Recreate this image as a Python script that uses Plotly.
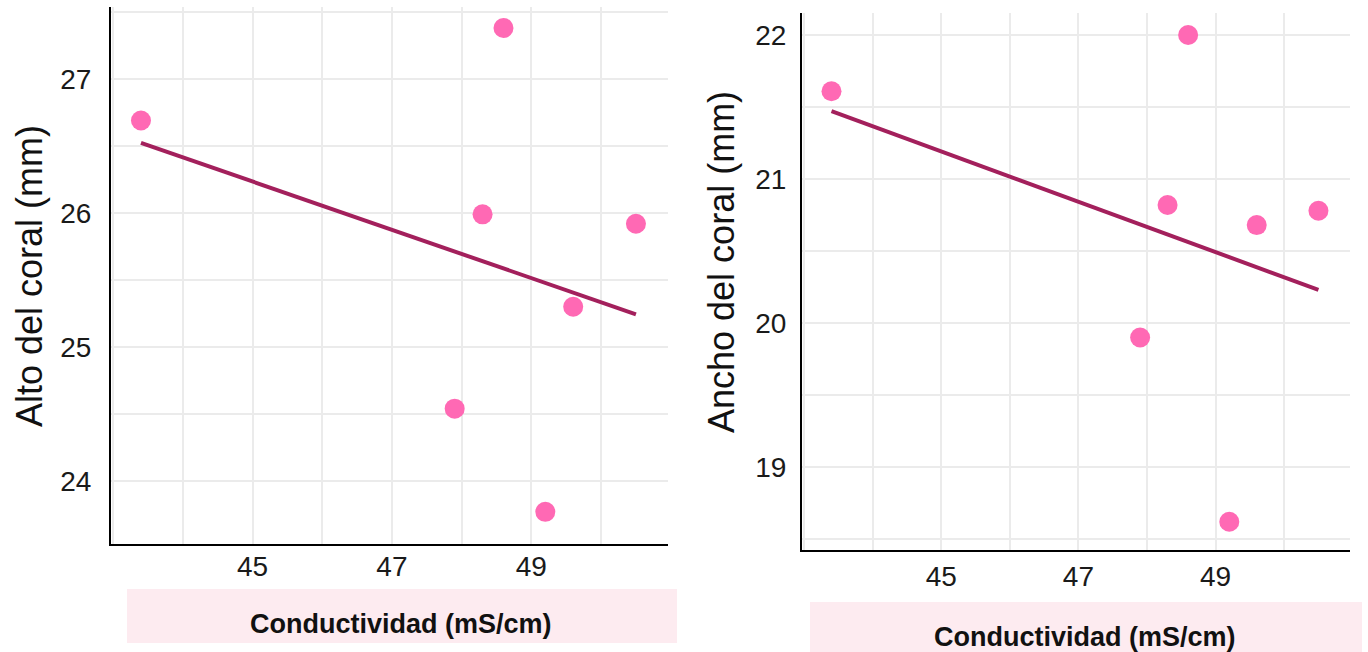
import numpy as np
import plotly.graph_objects as go

# Coral measurements against water conductivity
conductividad = [43.4, 47.9, 48.3, 48.6, 49.2, 49.6, 50.5]
alto_coral = [26.69, 24.54, 25.99, 27.38, 23.77, 25.30, 25.92]
ancho_coral = [21.61, 19.90, 20.82, 22.00, 18.62, 20.68, 20.78]

x_ticks = [45, 47, 49]
alto_ticks = [24, 25, 26, 27]
ancho_ticks = [19, 20, 21, 22]

x_title = "Conductividad (mS/cm)"
alto_title = "Alto del coral (mm)"
ancho_title = "Ancho del coral (mm)"

W, H = 1368, 652
POINT = "#ff69b4"
LINE = "#a3205c"
GRID = "#ebebeb"
BAND = "#fdebf0"
FONT = "Liberation Sans, Arial, sans-serif"

fig = go.Figure()


def fit_line(x, y):
    slope, intercept = np.polyfit(x, y, 1)
    xs = np.array([min(x), max(x)])
    return xs, slope * xs + intercept


for k, yvals in ((1, alto_coral), (2, ancho_coral)):
    xa = "x" if k == 1 else "x2"
    ya = "y" if k == 1 else "y2"
    lx, ly = fit_line(conductividad, yvals)
    fig.add_trace(go.Scatter(x=lx, y=ly, mode="lines",
                             line=dict(color=LINE, width=4),
                             xaxis=xa, yaxis=ya, showlegend=False))
    fig.add_trace(go.Scatter(x=conductividad, y=yvals, mode="markers",
                             marker=dict(color=POINT, size=20, line=dict(width=0)),
                             xaxis=xa, yaxis=ya, showlegend=False))


def px_x(p):
    return p / W


def px_y(p):
    return 1 - p / H


tick_font = dict(family=FONT, size=28, color="#1a1a1a")

common_x = dict(tickvals=x_ticks, showgrid=True, gridcolor=GRID, gridwidth=2,
                minor=dict(tick0=44, dtick=1, showgrid=True, gridcolor=GRID, gridwidth=2),
                showline=True, linecolor="black", linewidth=2, zeroline=False,
                ticks="", tickfont=tick_font,
                range=[42.97, 50.96], fixedrange=True)
common_y = dict(showgrid=True, gridcolor=GRID, gridwidth=2,
                minor=dict(dtick=0.5, showgrid=True, gridcolor=GRID, gridwidth=2),
                showline=True, linecolor="black", linewidth=2, zeroline=False,
                ticks="outside", tickcolor="rgba(0,0,0,0)", tickfont=tick_font,
                fixedrange=True)

fig.update_layout(
    width=W, height=H,
    margin=dict(l=0, r=0, t=0, b=0),
    paper_bgcolor="white", plot_bgcolor="white",
    xaxis=dict(common_x, domain=[px_x(111), px_x(668)], anchor="y",
               ticklabelstandoff=-4),
    yaxis=dict(common_y, domain=[px_y(544), px_y(7)], anchor="x",
               range=[23.53, 27.537], tickvals=alto_ticks, ticklen=12),
    xaxis2=dict(common_x, domain=[px_x(802), px_x(1350)], anchor="y2",
                ticklabelstandoff=0),
    yaxis2=dict(common_y, domain=[px_y(550), px_y(13)], anchor="x2",
                range=[18.424, 22.153], tickvals=ancho_ticks, ticklen=8),
)

# Shaded bands behind the x-axis titles
fig.add_shape(type="rect", xref="paper", yref="paper", layer="below",
              x0=px_x(127), x1=px_x(677), y0=px_y(643), y1=px_y(589),
              fillcolor=BAND, line=dict(width=0))
fig.add_shape(type="rect", xref="paper", yref="paper", layer="below",
              x0=px_x(810), x1=px_x(1362), y0=px_y(652), y1=px_y(602),
              fillcolor=BAND, line=dict(width=0))

title_font = dict(family=FONT, size=27, color="#111111")
fig.add_annotation(text="<b>" + x_title + "</b>", xref="paper", yref="paper",
                   x=px_x(401), y=px_y(624), showarrow=False, font=title_font,
                   xanchor="center", yanchor="middle")
fig.add_annotation(text="<b>" + x_title + "</b>", xref="paper", yref="paper",
                   x=px_x(1085), y=px_y(637), showarrow=False, font=title_font,
                   xanchor="center", yanchor="middle")

ytitle_font = dict(family=FONT, size=36, color="#111111")
fig.add_annotation(text=alto_title, xref="paper", yref="paper",
                   x=px_x(29), y=px_y(276), showarrow=False, font=ytitle_font,
                   textangle=-90, xanchor="center", yanchor="middle")
fig.add_annotation(text=ancho_title, xref="paper", yref="paper",
                   x=px_x(721), y=px_y(262), showarrow=False, font=ytitle_font,
                   textangle=-90, xanchor="center", yanchor="middle")

fig.write_html("out.html", config=dict(displayModeBar=False))
